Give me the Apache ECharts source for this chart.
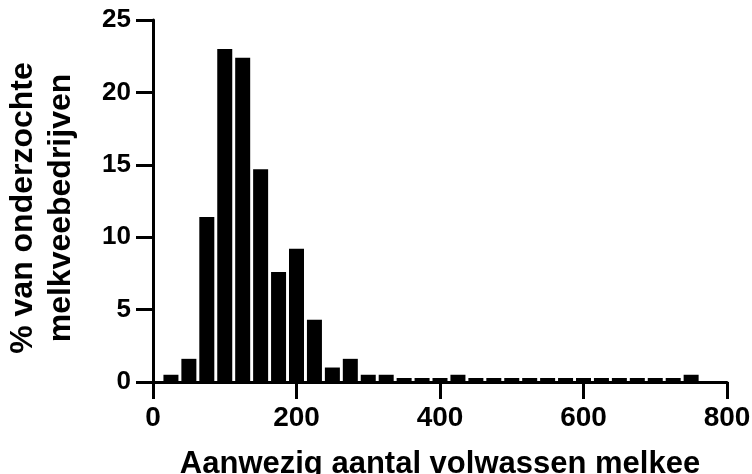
<!DOCTYPE html>
<html>
<head>
<meta charset="utf-8">
<script src="https://cdn.jsdelivr.net/npm/echarts@6/dist/echarts.min.js"></script>
<style>
  html, body { margin: 0; padding: 0; background: #fff; }
  #chart { width: 752px; height: 474px; }
</style>
</head>
<body>
<div id="chart"></div>
<script>
// Histogram: herd size (bin centres, step 25) vs. percentage of farms
const binCenters = [25, 50, 75, 100, 125, 150, 175, 200, 225, 250, 275, 300, 325, 350, 375,
                    400, 425, 450, 475, 500, 525, 550, 575, 600, 625, 650, 675, 700, 725, 750];
const percentages = [0.5, 1.6, 11.4, 23.0, 22.4, 14.7, 7.6, 9.2, 4.3, 1.0, 1.6, 0.5, 0.5, 0, 0,
                     0, 0.5, 0, 0, 0, 0, 0, 0, 0, 0, 0, 0, 0, 0, 0.5];
const xTicks = [0, 200, 400, 600, 800];
const yTicks = [0, 5, 10, 15, 20, 25];

const xTitle = 'Aanwezig aantal volwassen melkee';
const yTitle = '% van onderzochte\nmelkveebedrijven';

const FONT = '"Liberation Sans", Arial, Helvetica, sans-serif';

const chart = echarts.init(document.getElementById('chart'), null, { renderer: 'canvas' });

const axisCommon = {
  axisLine: { show: true, lineStyle: { color: '#000', width: 3 } },
  axisTick: { show: true, inside: false, length: 17, lineStyle: { color: '#000', width: 3 } },
  splitLine: { show: false }
};

chart.setOption({
  animation: false,
  backgroundColor: '#fff',
  grid: { left: 153, right: 25, top: 20, bottom: 92, containLabel: false, outerBoundsMode: 'none' },
  xAxis: Object.assign({}, axisCommon, {
    type: 'value',
    min: xTicks[0],
    max: xTicks[xTicks.length - 1],
    interval: xTicks[1] - xTicks[0],
    name: xTitle,
    nameLocation: 'middle',
    nameGap: 67,
    nameTextStyle: { fontFamily: FONT, fontWeight: 'bold', fontSize: 31, color: '#000' },
    axisLabel: { fontFamily: FONT, fontWeight: 'bold', fontSize: 28, color: '#000', margin: 22 }
  }),
  yAxis: Object.assign({}, axisCommon, {
    type: 'value',
    min: yTicks[0],
    max: yTicks[yTicks.length - 1],
    interval: yTicks[1] - yTicks[0],
    name: yTitle,
    nameLocation: 'middle',
    nameGap: 73,
    nameRotate: 90,
    nameTextStyle: { fontFamily: FONT, fontWeight: 'bold', fontSize: 32, color: '#000',
                     lineHeight: 38, align: 'center', padding: [0, 14, 0, 0] },
    axisLabel: { fontFamily: FONT, fontWeight: 'bold', fontSize: 26, color: '#000', margin: 22 }
  }),
  series: [{
    type: 'bar',
    data: binCenters.map((x, i) => [x, percentages[i]]),
    barWidth: 15,
    barMinHeight: 4,
    itemStyle: { color: '#000' },
    z: 3
  }]
});
</script>
</body>
</html>
